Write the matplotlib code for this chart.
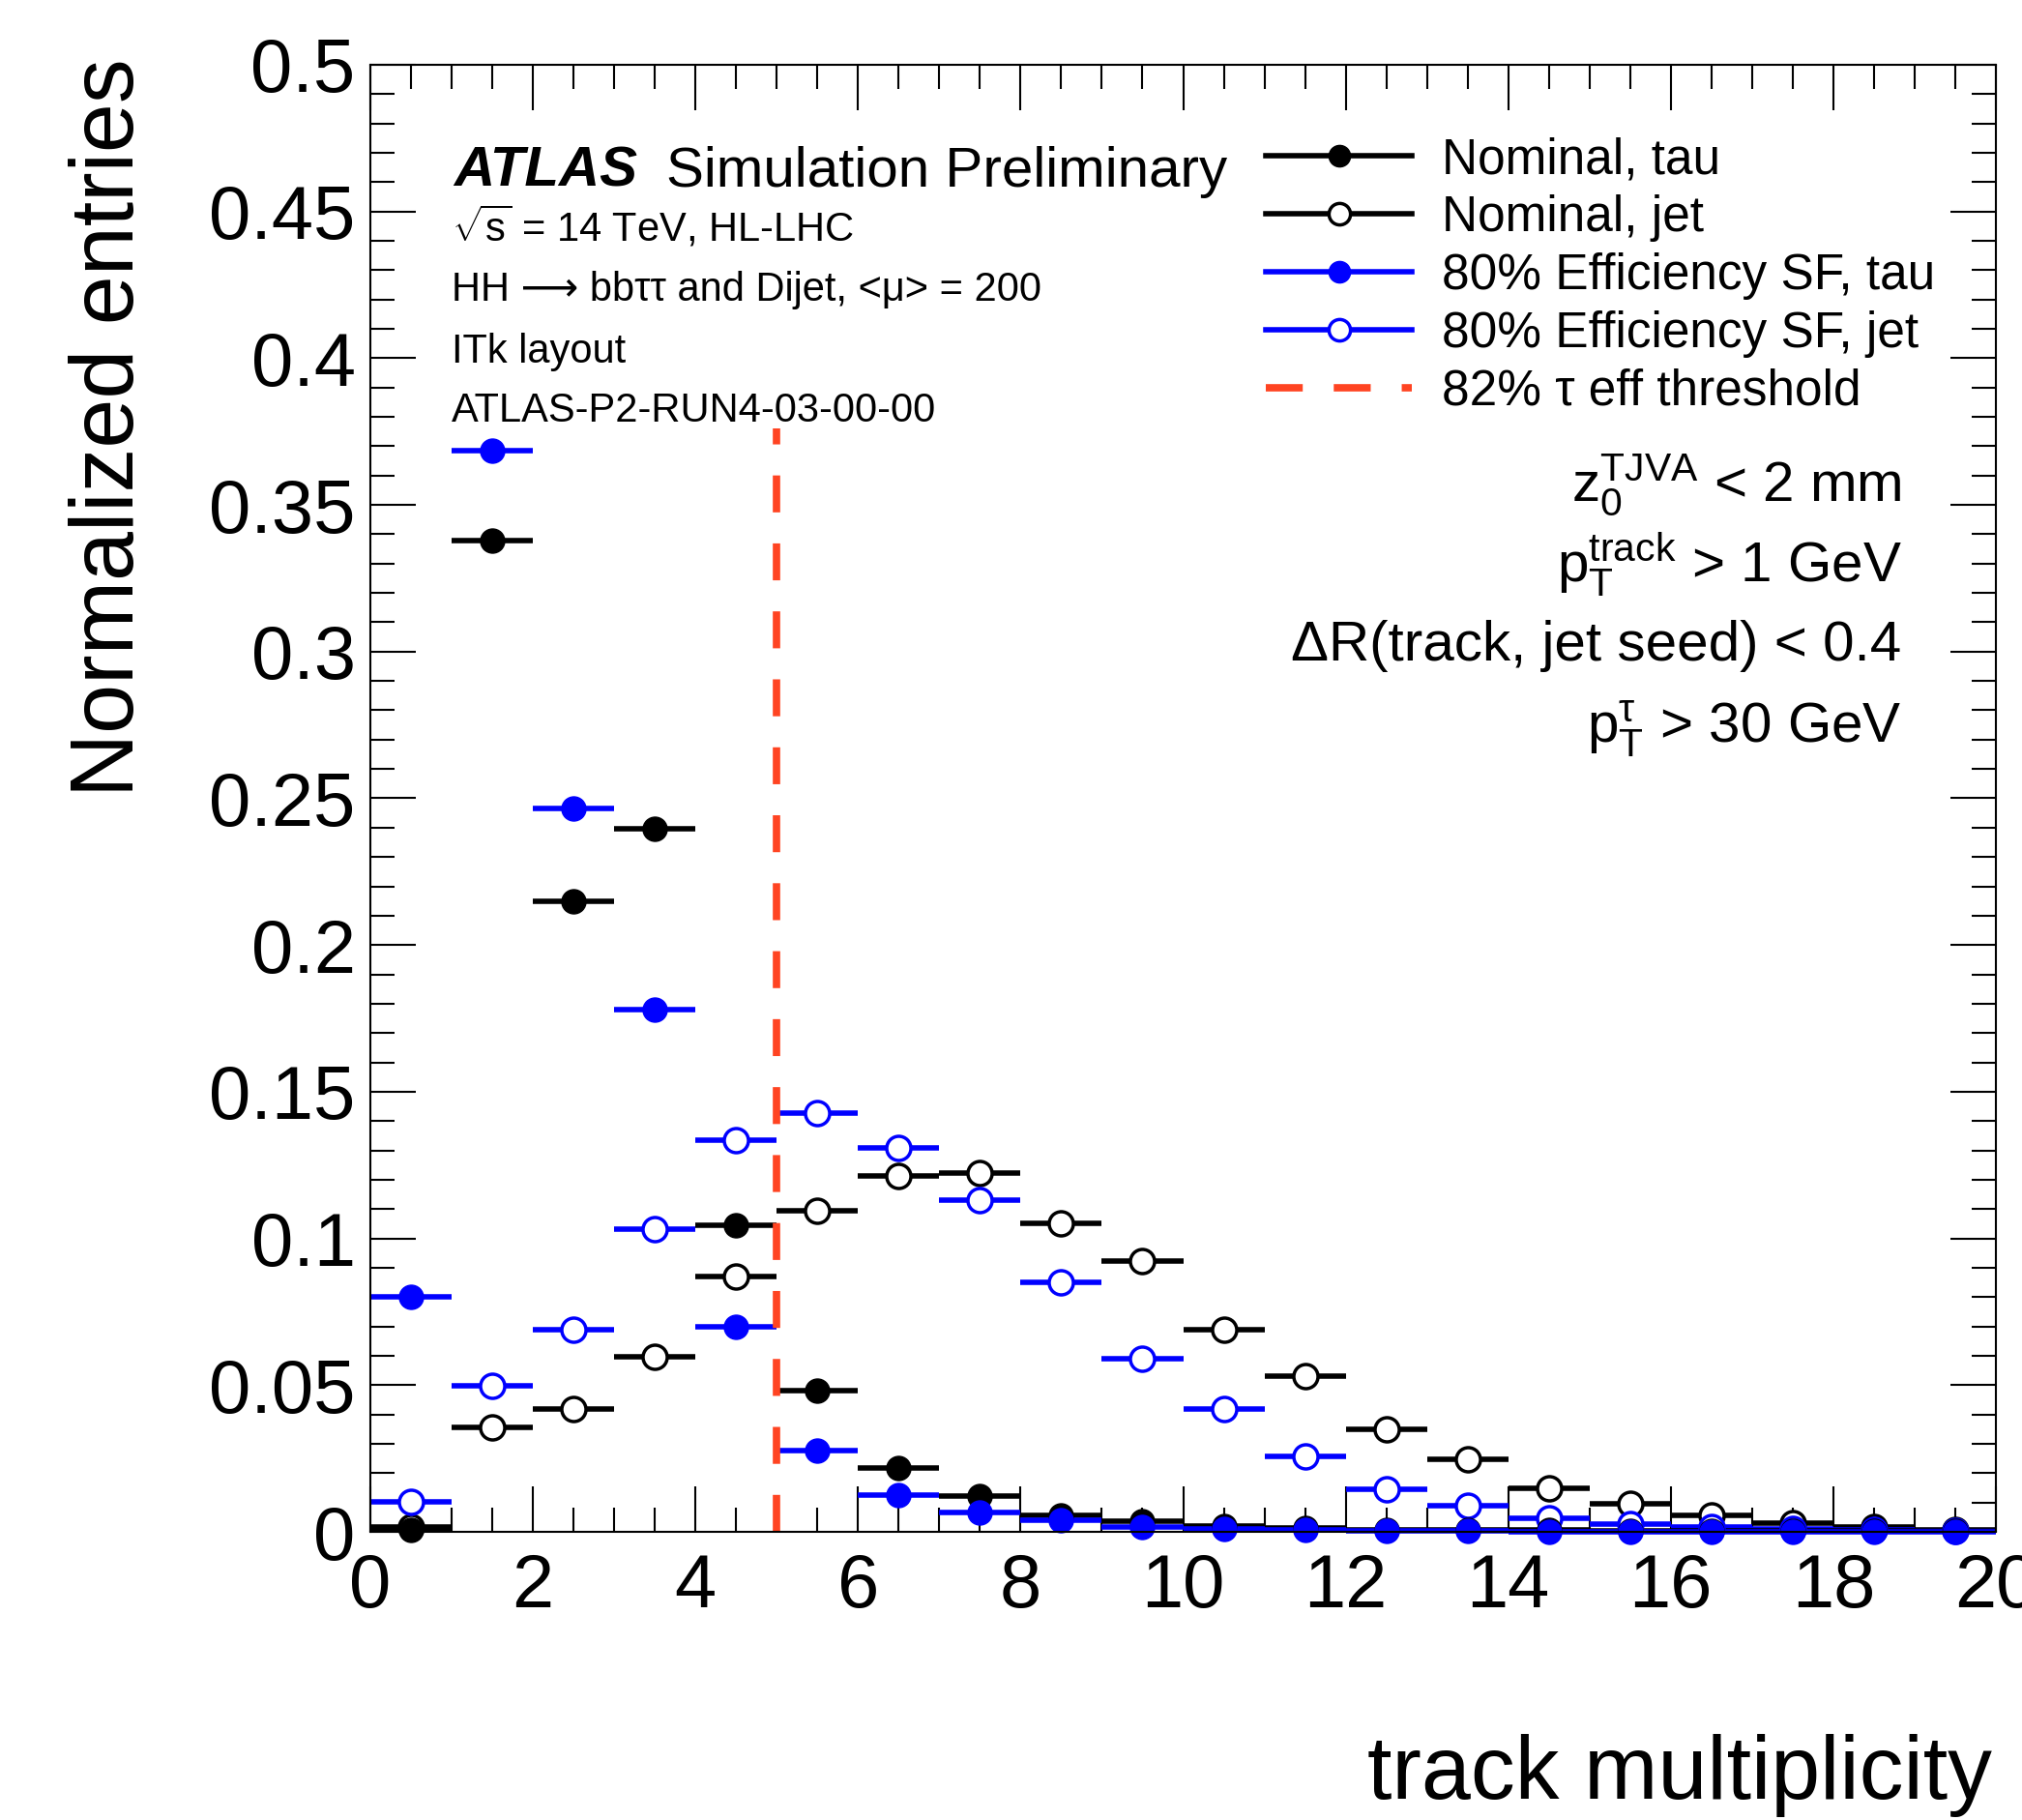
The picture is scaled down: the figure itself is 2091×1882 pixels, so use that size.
import numpy as np
import matplotlib
matplotlib.use("Agg")
import matplotlib.pyplot as plt
from matplotlib.lines import Line2D
from matplotlib.ticker import MultipleLocator, FuncFormatter

# ----------------------------
# Data (normalized entries per track multiplicity bin)
# ----------------------------
bin_edges = np.arange(0, 21, 1)
nominal_tau = [0.0008, 0.338, 0.215, 0.2395, 0.1045, 0.048, 0.0218, 0.0122, 0.0056, 0.0035,
               0.0021, 0.0013, 0.0008, 0.0006, 0.0005, 0.0004, 0.0003, 0.0003, 0.0002, 0.0002]
nominal_jet = [0.0015, 0.0356, 0.0417, 0.0598, 0.0869, 0.1093, 0.1214, 0.1224, 0.1052, 0.0922,
               0.0690, 0.0532, 0.0348, 0.0248, 0.0148, 0.0097, 0.0055, 0.0030, 0.0016, 0.0008]
sf80_tau = [0.0802, 0.3686, 0.2465, 0.1780, 0.0700, 0.0276, 0.0124, 0.0066, 0.0038, 0.0016,
            0.0010, 0.0005, 0.0002, 0.0002, 0.0001, 0.0001, 0.0001, 0.0001, 0.0001, 0.0001]
sf80_jet = [0.0102, 0.0498, 0.0690, 0.1031, 0.1335, 0.1428, 0.1307, 0.1132, 0.0850, 0.0590,
            0.0417, 0.0256, 0.0145, 0.0088, 0.0046, 0.0027, 0.0016, 0.0009, 0.0005, 0.0003]
threshold_x = 5
threshold_top = 0.376

labels = ["Nominal, tau", "Nominal, jet", "80% Efficiency SF, tau",
          "80% Efficiency SF, jet", "82% \u03c4 eff threshold"]

centers = 0.5 * (bin_edges[:-1] + bin_edges[1:])
half_width = 0.5 * np.diff(bin_edges)

RED = "#FF4422"
MS = 18
ELW = 4.0

plt.rcParams["font.family"] = ["Liberation Sans", "DejaVu Sans"]
plt.rcParams["mathtext.fontset"] = "custom"
plt.rcParams["mathtext.rm"] = "Liberation Sans"
plt.rcParams["mathtext.it"] = "Liberation Sans:italic"

fig = plt.figure(figsize=(20.91, 18.82), dpi=100)
ax = fig.add_axes([383 / 2091, 1 - 1584 / 1882, 1681 / 2091, 1517 / 1882])

common = dict(fmt="o", xerr=half_width, capsize=0, elinewidth=ELW, ms=MS, clip_on=False)
ax.errorbar(centers, nominal_jet, color="black", mfc="white", mec="black", mew=2.5, **common)
ax.errorbar(centers, sf80_jet, color="blue", mfc="white", mec="blue", mew=2.5, **common)
ax.errorbar(centers, nominal_tau, color="black", **common)
ax.errorbar(centers, sf80_tau, color="blue", **common)
ax.plot([threshold_x, threshold_x], [0, threshold_top], color=RED, lw=5.5, dashes=(5, 4.2))

ax.set_xlim(0, 20)
ax.set_ylim(0, 0.5)
ax.xaxis.set_major_locator(MultipleLocator(2))
ax.xaxis.set_minor_locator(MultipleLocator(0.5))
ax.yaxis.set_major_locator(MultipleLocator(0.05))
ax.yaxis.set_minor_locator(MultipleLocator(0.01))
ax.yaxis.set_major_formatter(FuncFormatter(lambda v, p: "%g" % round(v, 3)))
ax.tick_params(which="both", direction="in", top=True, right=True, width=1.5)
ax.tick_params(which="major", length=34, labelsize=56)
ax.tick_params(axis="x", which="major", pad=15)
ax.tick_params(axis="y", which="major", pad=11)
ax.tick_params(which="minor", length=18)
for s in ax.spines.values():
    s.set_linewidth(1.5)

fig.text(114 / 2091, 1 - 60 / 1882, "Normalized entries", rotation=90, fontsize=66,
         ha="center", va="top")
fig.text(2060 / 2091, 1 - 1860 / 1882, "track multiplicity", fontsize=66,
         ha="right", va="baseline")

# ATLAS label block
ax.text(0.0512, 0.917, "ATLAS", fontsize=42, fontweight="bold", fontstyle="italic",
        transform=ax.transAxes, va="baseline")
ax.text(0.182, 0.917, "Simulation Preliminary", fontsize=42, transform=ax.transAxes, va="baseline")
info = [r"$\mathregular{\sqrt{s}}$ = 14 TeV, HL-LHC",
        "HH \u27f6 bb\u03c4\u03c4 and Dijet, <\u03bc> = 200",
        "ITk layout",
        "ATLAS-P2-RUN4-03-00-00"]
for txt, yy in zip(info, [0.880, 0.839, 0.797, 0.757]):
    ax.text(0.050, yy, txt, fontsize=30, transform=ax.transAxes, va="baseline")

cuts = [r"$\mathregular{z_0^{TJVA}}$ < 2 mm",
        r"$\mathregular{p_T^{track}}$ > 1 GeV",
        "\u0394R(track, jet seed) < 0.4",
        r"$\mathregular{p_T^{\tau}}$ > 30 GeV"]
for txt, yy in zip(cuts, [0.703, 0.648, 0.594, 0.5386]):
    ax.text(0.942, yy, txt, fontsize=42, transform=ax.transAxes, ha="right", va="baseline")

handles = [
    Line2D([], [], color="black", lw=ELW, marker="o", ms=MS - 2),
    Line2D([], [], color="black", lw=ELW, marker="o", ms=MS - 2, mfc="white", mew=2.5),
    Line2D([], [], color="blue", lw=ELW, marker="o", ms=MS - 2),
    Line2D([], [], color="blue", lw=ELW, marker="o", ms=MS - 2, mfc="white", mew=2.5),
    Line2D([], [], color=RED, lw=5.5, dashes=(5, 4.2)),
]
ax.legend(handles, labels, loc="upper left", bbox_to_anchor=(0.551, 0.951), frameon=False,
          fontsize=37, borderpad=0, borderaxespad=0, labelspacing=0.21, handlelength=2.94,
          handletextpad=0.6)

fig.savefig("out.png", dpi=100)
